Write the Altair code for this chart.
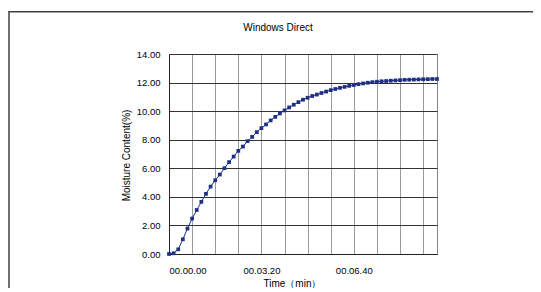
import altair as alt
import pandas as pd

# time in seconds (sampled every 10 s)
time_s = list(range(0, 590, 10))
moisture = [
    0.00, 0.05, 0.33, 1.03, 1.78, 2.48, 3.08, 3.65, 4.21, 4.72,
    5.16, 5.56, 6.01, 6.43, 6.82, 7.22, 7.52, 7.90, 8.20, 8.53,
    8.81, 9.07, 9.35, 9.60, 9.84, 10.05, 10.26, 10.45, 10.63, 10.80,
    10.94, 11.06, 11.16, 11.27, 11.37, 11.47, 11.55, 11.63, 11.70, 11.77,
    11.83, 11.89, 11.94, 11.99, 12.03, 12.06, 12.09, 12.11, 12.13, 12.15,
    12.17, 12.19, 12.20, 12.21, 12.22, 12.23, 12.24, 12.25, 12.25,
]
grid_ticks = list(range(0, 600, 50))[:12]
label_ticks = [0, 200, 400]
tick_labels = ["00.00.00", "00.03.20", "00.06.40"]
y_ticks = [0, 2, 4, 6, 8, 10, 12, 14]

df = pd.DataFrame({"t": time_s, "m": moisture})

expr = '""'
for v, lab in reversed(list(zip(label_ticks, tick_labels))):
    expr = f'datum.value == {v} ? "{lab}" : ({expr})'

FONT = "Liberation Sans"
COLOR = "#1F2F86"

x = alt.X(
    "t:Q",
    scale=alt.Scale(domain=[0, 580], nice=False, zero=False),
    axis=alt.Axis(
        values=grid_ticks, labelExpr=expr, ticks=False, grid=True,
        gridColor="#9a9a9a", gridWidth=1, domainColor="#222", labelPadding=11,
        labelFontSize=9.5, labelFont=FONT, labelColor="#000",
        title="Time（min）", titleFontSize=10, titleFont=FONT, titleFontWeight="normal",
        titleColor="#000", titleX=123, titleY=29, titleAnchor="middle", titleBaseline="middle",
        titleAlign="center",
    ),
)
y = alt.Y(
    "m:Q",
    scale=alt.Scale(domain=[0, 14], nice=False),
    axis=alt.Axis(
        values=y_ticks, format=".2f", ticks=False, grid=True, gridColor="#333",
        gridWidth=1, domainColor="#222", labelPadding=9, labelFontSize=9.5,
        labelFont=FONT, labelColor="#000",
        title="Moisture Content(%)", titleFontSize=10, titleFont=FONT,
        titleFontWeight="normal", titleColor="#000", titleX=-43, titleY=101,
        titleAngle=-90, titleAlign="center", titleBaseline="middle",
    ),
)

frame = alt.Chart(alt.Data(values=[{}])).mark_rect(
    fill="transparent", stroke="#404040", strokeWidth=1.5
).encode(x=alt.value(-160), y=alt.value(-42.3), x2=alt.value(600), y2=alt.value(320))

title = alt.Chart(alt.Data(values=[{}])).mark_text(
    font=FONT, fontSize=10, color="#000", align="center", baseline="alphabetic"
).encode(x=alt.value(109), y=alt.value(-23.5), text=alt.value("Windows Direct"))

line = alt.Chart(df).mark_line(
    color=COLOR, strokeWidth=1,
    point=alt.OverlayMarkDef(shape="square", size=14, filled=True, color=COLOR, opacity=1),
).encode(x=x, y=y)

chart = alt.layer(frame, line, title).properties(
    width=268, height=200,
    autosize=alt.AutoSizeParams(type="none"),
    padding={"left": 161, "top": 46, "right": 96, "bottom": 34},
    background="white",
).configure_view(stroke="#888", strokeWidth=1)

chart.save("out.html", embed_options={"renderer": "svg", "actions": False})
